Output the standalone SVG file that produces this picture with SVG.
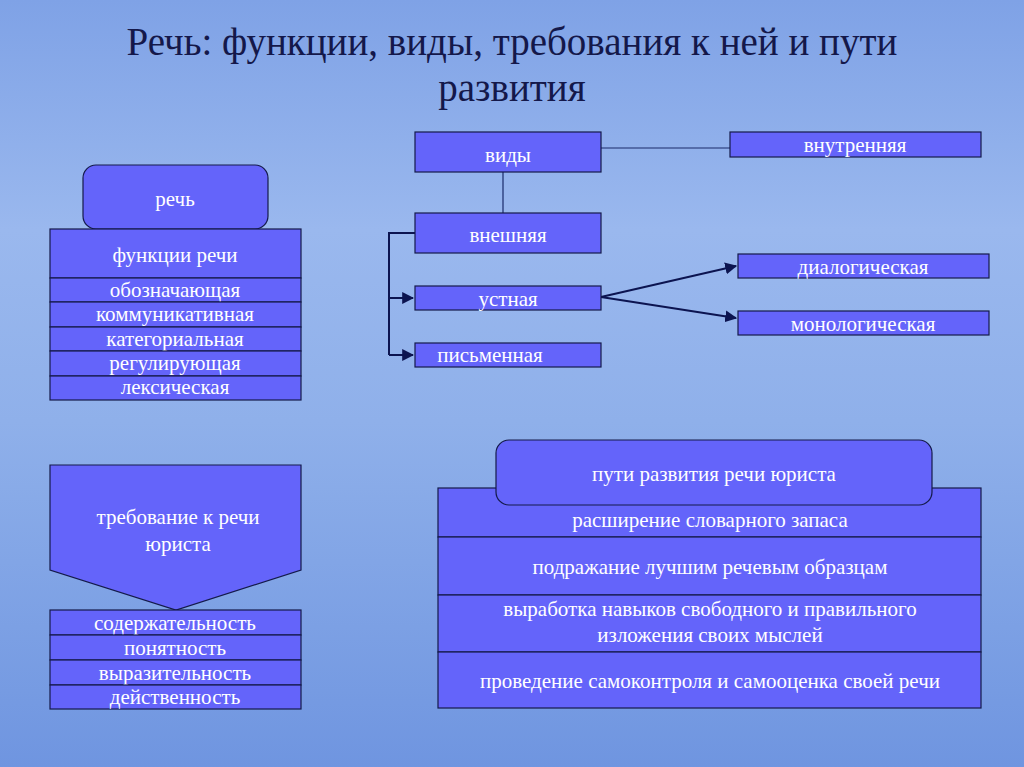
<svg xmlns="http://www.w3.org/2000/svg" width="1024" height="767" viewBox="0 0 1024 767">
<defs>
<linearGradient id="bg" x1="0" y1="0" x2="0" y2="1">
<stop offset="0" stop-color="#7fa2e6"/><stop offset="0.3" stop-color="#9ab8ee"/><stop offset="0.55" stop-color="#8fb0ea"/><stop offset="1" stop-color="#6f95e0"/>
</linearGradient>
<marker id="ar" viewBox="0 0 10 10" refX="9" refY="5" markerWidth="6" markerHeight="6" orient="auto"><path d="M0,0 L10,5 L0,10 z" fill="#0c1450"/></marker>
<style>
.b{fill:#6464fa;stroke:#141a4a;stroke-width:1.2}
.t{font-family:"Liberation Serif",serif;font-size:21px;fill:#fff;text-anchor:middle}
.c{fill:none;stroke:#0c1450;stroke-width:2}
.l{fill:none;stroke:#1a2a6a;stroke-width:1.2}
</style>
</defs>
<rect width="1024" height="767" fill="url(#bg)"/>
<text x="512" y="55" font-family="Liberation Serif,serif" font-size="39" fill="#14184a" text-anchor="middle">Речь: функции, виды, требования к ней и пути</text>
<text x="512" y="101" font-family="Liberation Serif,serif" font-size="39" fill="#14184a" text-anchor="middle">развития</text>
<g id="connectors">
<line class="l" x1="601" y1="148" x2="730" y2="148"/>
<line class="l" x1="503" y1="172" x2="503" y2="213"/>
<path class="c" d="M415,233 H389 V355"/>
<line class="c" x1="389" y1="298" x2="413" y2="298" marker-end="url(#ar)"/>
<line class="c" x1="389" y1="355" x2="413" y2="355" marker-end="url(#ar)"/>
<line class="c" x1="601" y1="297" x2="736" y2="266" marker-end="url(#ar)"/>
<line class="c" x1="601" y1="297" x2="736" y2="318" marker-end="url(#ar)"/>
</g>
<g id="rech"><rect class="b" x="83" y="165" width="185" height="64" rx="13"/><text class="t" x="175" y="206">речь</text></g>
<g id="funkcii">
<rect class="b" x="50" y="229" width="251" height="49"/><text class="t" x="175" y="262">функции речи</text>
<rect class="b" x="50" y="278" width="251" height="24"/><text class="t" x="175" y="297">обозначающая</text>
<rect class="b" x="50" y="302" width="251" height="25"/><text class="t" x="175" y="321">коммуникативная</text>
<rect class="b" x="50" y="327" width="251" height="24"/><text class="t" x="175" y="346">категориальная</text>
<rect class="b" x="50" y="351" width="251" height="25"/><text class="t" x="175" y="370">регулирующая</text>
<rect class="b" x="50" y="376" width="251" height="24"/><text class="t" x="175" y="394">лексическая</text>
</g>
<g id="vidy"><rect class="b" x="415" y="132" width="186" height="40"/><text class="t" x="508" y="162">виды</text></g>
<g id="vnutr"><rect class="b" x="730" y="132" width="251" height="25"/><text class="t" x="855" y="152">внутренняя</text></g>
<g id="vnesh"><rect class="b" x="415" y="213" width="186" height="40"/><text class="t" x="508" y="242">внешняя</text></g>
<g id="ustn"><rect class="b" x="415" y="286" width="186" height="24"/><text class="t" x="508" y="306">устная</text></g>
<g id="pism"><rect class="b" x="415" y="343" width="186" height="24"/><text class="t" x="490" y="362">письменная</text></g>
<g id="dialog"><rect class="b" x="738" y="254" width="251" height="24"/><text class="t" x="863" y="274">диалогическая</text></g>
<g id="monolog"><rect class="b" x="738" y="311" width="251" height="24"/><text class="t" x="863" y="331">монологическая</text></g>
<g id="treb">
<path class="b" d="M50,465 H301 V570 L176,610 L50,570 Z"/>
<text class="t" x="178" y="524">требование к речи</text><text class="t" x="178" y="551">юриста</text>
</g>
<g id="treb-list">
<rect class="b" x="50" y="610" width="251" height="25"/><text class="t" x="175" y="630">содержательность</text>
<rect class="b" x="50" y="635" width="251" height="25"/><text class="t" x="175" y="655">понятность</text>
<rect class="b" x="50" y="660" width="251" height="25"/><text class="t" x="175" y="680">выразительность</text>
<rect class="b" x="50" y="685" width="251" height="24"/><text class="t" x="175" y="704">действенность</text>
</g>
<g id="puti-list">
<rect class="b" x="438" y="488" width="543" height="49"/><text class="t" x="710" y="527">расширение словарного запаса</text>
<rect class="b" x="438" y="537" width="543" height="58"/><text class="t" x="710" y="574">подражание лучшим речевым образцам</text>
<rect class="b" x="438" y="595" width="543" height="57"/><text class="t" x="710" y="616">выработка навыков свободного и правильного</text><text class="t" x="710" y="642">изложения своих мыслей</text>
<rect class="b" x="438" y="652" width="543" height="56"/><text class="t" x="710" y="688">проведение самоконтроля и самооценка своей речи</text>
</g>
<g id="puti"><rect class="b" x="496" y="440" width="436" height="65" rx="13"/><text class="t" x="714" y="481">пути развития речи юриста</text></g>
</svg>
